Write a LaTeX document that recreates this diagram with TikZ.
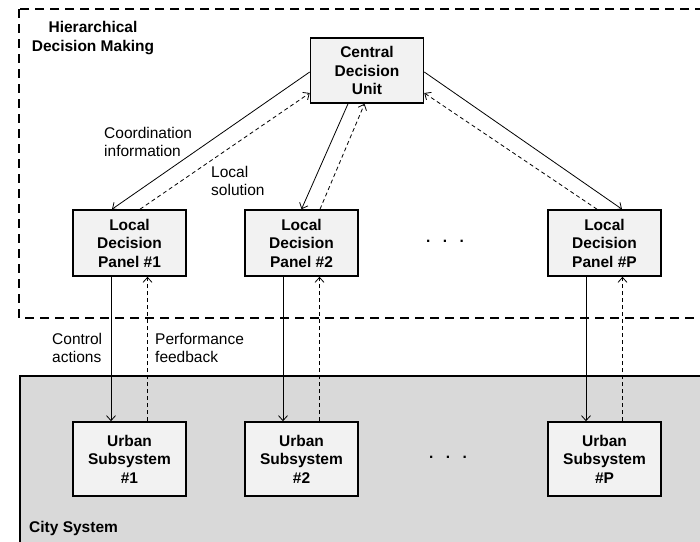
\documentclass[tikz,border=0pt]{standalone}
\usepackage{fontspec}
\setmainfont{Liberation Sans}
\usetikzlibrary{arrows.meta}

\definecolor{boxgray}{HTML}{F2F2F2}
\definecolor{citygray}{HTML}{D9D9D9}

\newcommand{\txtsize}{\fontsize{15.5}{18.5}\selectfont}

\tikzset{
  box/.style={draw, line width=1.6pt, fill=boxgray, minimum width=113pt,
    minimum height=66pt, align=center, inner sep=0pt, font=\txtsize\bfseries},
  lbl/.style={align=left, inner sep=0pt, anchor=west},
  flow/.style={->, line width=0.8pt},
  feedback/.style={->, line width=0.8pt, dash pattern=on 4pt off 3pt},
  frame/.style={line width=1.6pt, dash pattern=on 9pt off 6pt},
  dots/.style={inner sep=0pt, font=\txtsize\bfseries},
}

\begin{document}
\begin{tikzpicture}[x=1pt, y=-1pt, font=\txtsize, >={Straight Barb[length=5pt,width=9pt]}]
    \useasboundingbox (0,0) rectangle (700,541);
    \clip (0,0) rectangle (700,541);

    % City system and decision frame
    \draw[line width=1.6pt, fill=citygray] (20,376) rectangle (720,560);
    \draw[frame] (19,9) rectangle (720,318);

    % Boxes
    \node[box, minimum height=65pt] (cdu) at (367,70.5) {Central\\Decision\\Unit};

    \node[box] (lp1) at (129.5,243) {Local\\Decision\\Panel \#1};
    \node[box] (lp2) at (301.5,243) {Local\\Decision\\Panel \#2};
    \node[box] (lpP) at (604.5,243) {Local\\Decision\\Panel \#P};

    \node[box, minimum height=74pt] (us1) at (129.5,459) {Urban\\Subsystem\\\#1};
    \node[box, minimum height=74pt] (us2) at (301.5,459) {Urban\\Subsystem\\\#2};
    \node[box, minimum height=74pt] (usP) at (604.5,459) {Urban\\Subsystem\\\#P};

    \node[dots] (dotsA) at (445,241) {.\hspace{12.5pt}.\hspace{12.5pt}.};
    \node[dots] (dotsB) at (448,457) {.\hspace{12.5pt}.\hspace{12.5pt}.};

    % Labels
    \node[align=center, inner sep=0pt, font=\txtsize\bfseries] (hdm) at (93,38) {Hierarchical\\Decision Making};
    \node[lbl] (coord) at (104,142) {Coordination\\information};
    \node[lbl] (lsol) at (211,181) {Local\\solution};
    \node[lbl] (ctrl) at (52,348) {Control\\actions};
    \node[lbl] (perf) at (155,348) {Performance\\feedback};
    \node[lbl, font=\txtsize\bfseries] (city) at (29,528) {City System};

    % Central unit <-> local panels
    \draw[flow] ([yshift=-1.5pt]cdu.west) -- ([xshift=-17.5pt]lp1.north);
    \draw[feedback] ([xshift=10.5pt]lp1.north) -- ([yshift=-22.5pt]cdu.west);
    \draw[flow] ([xshift=-19pt]cdu.south) -- (lp2.north);
    \draw[feedback] ([xshift=18.5pt]lp2.north) -- ([xshift=-2.5pt]cdu.south);
    \draw[flow] ([yshift=-1.5pt]cdu.east) -- ([xshift=17.5pt]lpP.north);
    \draw[feedback] ([xshift=-7.5pt]lpP.north) -- ([yshift=-22.5pt]cdu.east);

    % Local panels <-> urban subsystems
    \foreach \i in {1,2,P} {
      \draw[flow] ([xshift=-18.5pt]lp\i.south) -- ([xshift=-18.5pt]us\i.north);
      \draw[feedback] ([xshift=18pt]us\i.north) -- ([xshift=18pt]lp\i.south);
    }
\end{tikzpicture}
\end{document}
